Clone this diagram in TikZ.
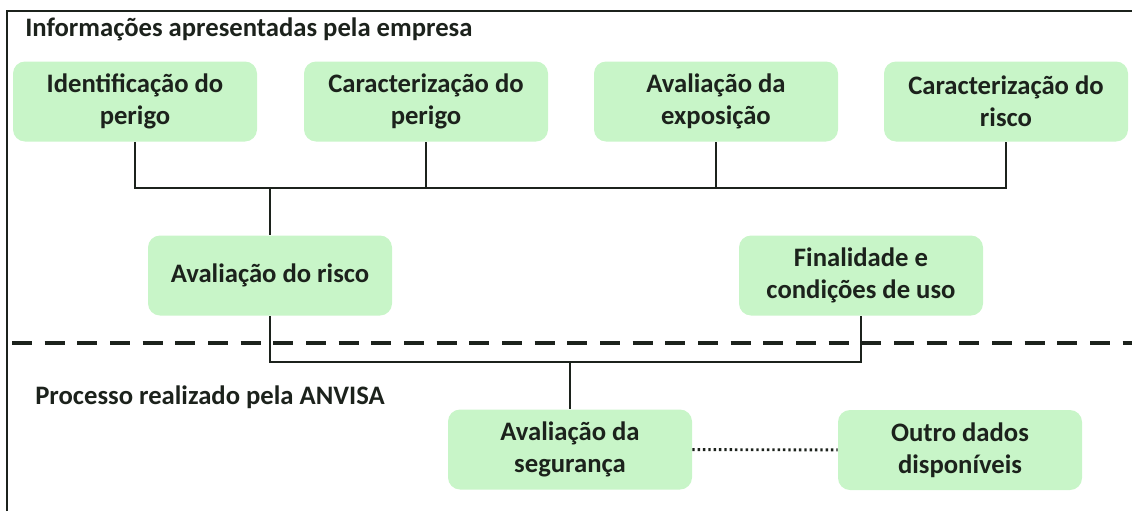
\documentclass[tikz,border=0pt]{standalone}
\usepackage{fontspec}
\setmainfont{Carlito}
\definecolor{boxgreen}{RGB}{200,245,200}
\definecolor{inkdark}{RGB}{28,34,28}
\tikzset{
	etapa/.style={
		rounded corners=9pt, fill=boxgreen, draw=none,
		minimum width=183pt, minimum height=60pt,
		align=center, text=inkdark,
		font=\fontsize{20}{24}\selectfont\bfseries},
	rotulo/.style={
		anchor=west, text=inkdark, inner sep=0pt,
		font=\fontsize{20}{24}\selectfont\bfseries},
	liga/.style={line width=1.6pt, inkdark}
}
\begin{document}
\begin{tikzpicture}[x=0.75pt,y=0.75pt,yscale=-1,xscale=1]
\useasboundingbox (0,0) rectangle (1132,511);

% moldura
\draw [line width=1.2pt, inkdark] (7,511) -- (7,11) -- (1132,11);

\node [rotulo] (empresa) at (25,29) {Informações apresentadas pela empresa};
\node [rotulo] (anvisa) at (35,397) {Processo realizado pela ANVISA};

\node [etapa] (ident)   at (135,101.5) {Identificação do\\perigo};
\node [etapa] (cperigo) at (426,101.5) {Caracterização do\\perigo};
\node [etapa] (expo)    at (716,101.5) {Avaliação da\\exposição};
\node [etapa] (crisco)  at (1006,101.5) {Caracterização do\\risco};
\node [etapa] (arisco)  at (270,275.5) {Avaliação do risco};
\node [etapa] (final)   at (861,275.5) {Finalidade e\\condições de uso};
\node [etapa] (aseg)    at (570,449.5) {Avaliação da\\segurança};
\node [etapa] (outros)  at (960,450) {Outro dados\\disponíveis};

\coordinate (bus) at (270,188);
\coordinate (bus2) at (570,362);
\coordinate (tracoE) at (12,343);
\coordinate (tracoD) at (1132,343);

% ligacoes de cima
\draw [liga] (ident) -- (ident |- bus) -- (crisco |- bus) -- (crisco);
\draw [liga] (cperigo) -- (cperigo |- bus);
\draw [liga] (expo) -- (expo |- bus);
\draw [liga] (bus) -- (arisco);

% linha divisoria
\draw [line width=3pt, inkdark, dash pattern=on 15pt off 9.5pt] (tracoE) -- (tracoD);

% ligacoes de baixo
\draw [liga] (arisco) -- (arisco |- bus2) -- (final |- bus2) -- (final);
\draw [liga] (bus2) -- (aseg);
\draw [line width=2.2pt, inkdark, dash pattern=on 1.8pt off 2.2pt] (aseg) -- (outros);
\end{tikzpicture}
\end{document}
